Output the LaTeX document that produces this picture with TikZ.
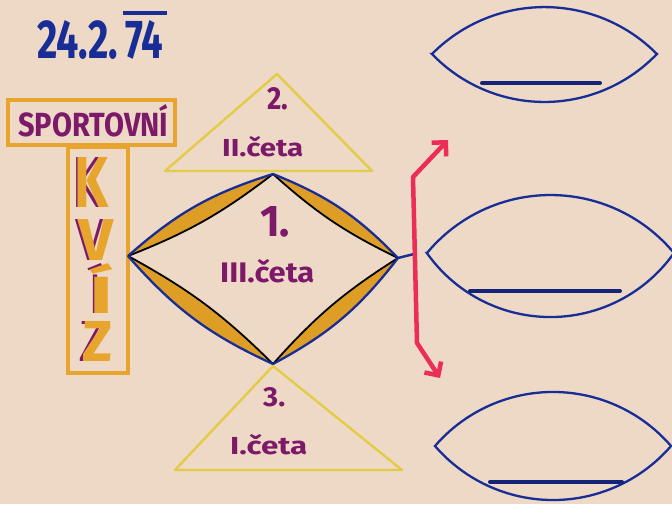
\documentclass[tikz,border=0pt]{standalone}
\usepackage{fontspec}
\setmainfont{Fira Sans}
\newfontfamily\lightfont{Fira Sans Light}
\usetikzlibrary{arrows.meta}
\definecolor{paper}{RGB}{237,217,198}
\definecolor{penblue}{RGB}{25,45,150}
\definecolor{penpurple}{RGB}{125,25,105}
\definecolor{penorange}{RGB}{232,165,45}
\definecolor{lensfill}{RGB}{222,158,38}
\definecolor{penyellow}{RGB}{226,204,70}
\definecolor{penred}{RGB}{236,45,85}
\newcommand{\twotone}[4]{\rlap{\color{penpurple}\resizebox{#2}{#4}{\lightfont #1}}\hspace{4pt}\color{penorange}\resizebox{#3}{#4}{\bfseries #1}}
\tikzset{
  txt/.style={inner sep=0pt,anchor=south west},
  orangebox/.style={draw=penorange,line width=4.5pt},
  tri/.style={draw=penyellow,line width=2.4pt,line join=round},
  outerpen/.style={draw=penblue,line width=2.3pt},
  innerpen/.style={draw=black,line width=1.8pt},
  lensline/.style={draw=penblue,line width=2.3pt},
  barline/.style={draw=penblue!80!black,line width=4pt,line cap=round},
  redpen/.style={draw=penred,line width=4.5pt,line join=round,line cap=round}
}
\begin{document}
\begin{tikzpicture}[x=1pt,y=1pt]
\useasboundingbox (0,0) rectangle (672,504);
\fill[paper] (0,0) rectangle (672,504);
\clip (0,0) rectangle (672,504);

% date
\node[txt,text=penblue] (dleft) at (37,444) {\resizebox{81pt}{38pt}{\bfseries 24.2.}};
\node[txt,text=penblue] (dyear) at (125,444) {\resizebox{38pt}{38pt}{\bfseries 74}};
\draw[penblue,line width=4pt] ([xshift=-2pt,yshift=8pt]dyear.north west) -- ([xshift=4pt,yshift=8pt]dyear.north east);

% SPORTOVNI box
\draw[orangebox] (8,359) rectangle (175,404);
\node[txt,text=penpurple] (sport) at (18,367) {\resizebox{150pt}{32pt}{\bfseries SPORTOVNÍ}};

% KVIZ box
\draw[orangebox] (68,131) rectangle (128,357);
\node[txt] (kk) at (70,296) {\twotone{K}{30pt}{34pt}{50pt}};
\node[txt] (kv) at (74,243) {\twotone{V}{30pt}{35pt}{41pt}};
\node[txt] (ki) at (85,190) {\twotone{Í}{20pt}{24pt}{50pt}};
\node[txt] (kz) at (78,142) {\twotone{Z}{26pt}{30pt}{40pt}};

% triangles
\coordinate (t2a) at (277,430);
\coordinate (t2l) at (165,333);
\coordinate (t2r) at (372,333);
\draw[tri] (t2a) -- (t2r) -- (t2l) -- cycle;
\coordinate (t3a) at (273,138);
\coordinate (t3l) at (175,34);
\coordinate (t3r) at (402,34);
\draw[tri] (t3a) -- (t3r) -- (t3l) -- cycle;

\node[txt,text=penpurple] (n2) at (267,394) {\resizebox{21pt}{22pt}{\bfseries 2.}};
\node[txt,text=penpurple] (c2) at (222,347) {\resizebox{81pt}{20pt}{\bfseries II.četa}};
\node[txt,text=penpurple] (n3) at (263,97) {\resizebox{22pt}{19pt}{\bfseries 3.}};
\node[txt,text=penpurple] (c3) at (230,49) {\resizebox{77pt}{20pt}{\bfseries I.četa}};

% diamond of lenses
\coordinate (L) at (128,248);
\coordinate (T) at (273,330);
\coordinate (R) at (398,246);
\coordinate (B) at (273,140);
\foreach \a/\b in {L/T,T/R,R/B,B/L}{
  \fill[lensfill] (\a) to[bend left=12] (\b) to[bend left=8] (\a) -- cycle;
  \draw[innerpen] (\b) to[bend left=8] (\a);
  \draw[outerpen] (\a) to[bend left=12] (\b);
}
\node[txt,text=penpurple] (n1) at (260,267) {\resizebox{30pt}{30pt}{\bfseries 1.}};
\node[txt,text=penpurple] (c1) at (220,221) {\resizebox{94pt}{23pt}{\bfseries III.četa}};

% stub and red bracket
\coordinate (stub) at (414,250);
\draw[penblue,line width=2.5pt] (R) -- (stub);
\coordinate (rtip) at (448,364);
\coordinate (rtop) at (413,327);
\coordinate (rbot) at (417,161);
\coordinate (btip) at (440,126);
\draw[redpen,{Straight Barb[length=10pt,width=20pt]}-{Straight Barb[length=10pt,width=20pt]}] (rtip) -- (rtop) -- (rbot) -- (btip);

% right lenses
\coordinate (l1a) at (432,450);
\draw[lensline] (l1a) arc[start angle=135.3, end angle=44.7, radius=158.2]
                      arc[start angle=-43.8, end angle=-136.2, radius=155.8] -- cycle;
\coordinate (b1a) at (482,421); \coordinate (b1b) at (600,421);
\draw[barline] (b1a) -- (b1b);

\coordinate (l2a) at (427,251);
\draw[lensline] (l2a) arc[start angle=140.3, end angle=39.7, radius=160.5]
                      arc[start angle=-35.2, end angle=-144.8, radius=151.2] -- cycle;
\coordinate (b2a) at (470,213); \coordinate (b2b) at (620,213);
\draw[barline] (b2a) -- (b2b);

\coordinate (l3a) at (435,58);
\draw[lensline] (l3a) arc[start angle=139.2, end angle=40.8, radius=155.9]
                      arc[start angle=-40.8, end angle=-139.2, radius=155.9] -- cycle;
\coordinate (b3a) at (490,22); \coordinate (b3b) at (622,22);
\draw[barline] (b3a) -- (b3b);
\end{tikzpicture}
\end{document}
